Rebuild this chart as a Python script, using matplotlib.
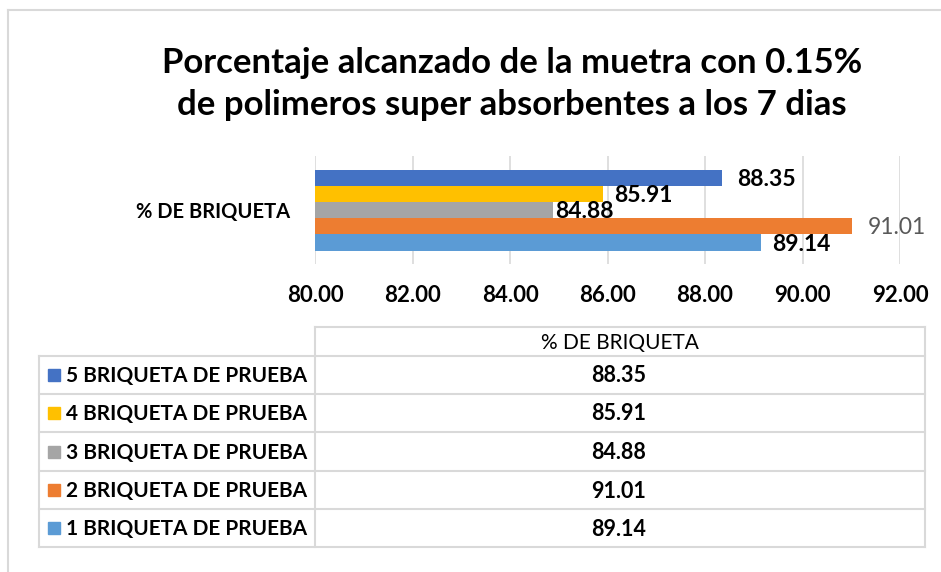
import matplotlib
matplotlib.use("Agg")
import matplotlib.pyplot as plt
from matplotlib.lines import Line2D
from matplotlib.patches import Rectangle

# ---- data ----
series_names = ["1 BRIQUETA DE PRUEBA", "2 BRIQUETA DE PRUEBA", "3 BRIQUETA DE PRUEBA",
                "4 BRIQUETA DE PRUEBA", "5 BRIQUETA DE PRUEBA"]
values = [89.14, 91.01, 84.88, 85.91, 88.35]
category = "% DE BRIQUETA"
xticks = [80, 82, 84, 86, 88, 90, 92]
title = "Porcentaje alcanzado de la muetra con 0.15%\nde polimeros super absorbentes a los 7 dias"

colors = ["#5B9BD5", "#ED7D31", "#A5A5A5", "#FFC000", "#4472C4"]
label_colors = ["#000000", "#595959", "#000000", "#000000", "#000000"]
label_weights = ["bold", "normal", "bold", "bold", "bold"]
label_dx = [12, 16, 2, 11, 15]  # px offsets from bar end

FONT = ["Lato", "DejaVu Sans"]
plt.rcParams["font.family"] = FONT

W, H = 941, 572
fig = plt.figure(figsize=(W / 100, H / 100), dpi=100)


def fx(x):
    return x / W


def fy(y):
    return 1 - y / H


# outer border
fig.add_artist(Line2D([fx(8), fx(8)], [fy(10), fy(H + 5)], color="#D9D9D9", lw=1.5))
fig.add_artist(Line2D([fx(8), fx(W + 5)], [fy(10), fy(10)], color="#D9D9D9", lw=1.5))

# title
fig.text(fx(512), fy(84), title, ha="center", va="center", fontsize=25,
         fontweight="bold", color="#000000", linespacing=1.36)

# bar axes
ax_l, ax_r, ax_t, ax_b = 315, 900, 156, 264
ax = fig.add_axes([fx(ax_l), fy(ax_b), (ax_r - ax_l) / W, (ax_b - ax_t) / H])
n = len(values)
h = 0.15
for i, (v, c) in enumerate(zip(values, colors)):
    y = -0.3 + i * h
    ax.barh(y, v - 80, left=80, height=h, color=c, zorder=3)
    ax.annotate(f"{v:.2f}", (v, y), xytext=(label_dx[i] * 0.72, -1.2), textcoords="offset points",
                ha="left", va="center", fontsize=16.5, fontweight=label_weights[i],
                color=label_colors[i], zorder=4)
ax.set_xlim(80, 92)
ax.set_ylim(-0.5, 0.5)
ax.set_xticks(xticks)
ax.set_xticklabels([f"{t:.2f}" for t in xticks], fontsize=16, fontweight="bold")
ax.set_yticks([0])
ax.set_yticklabels([category], fontsize=14.5, fontweight="bold")
ax.tick_params(axis="both", length=0)
ax.tick_params(axis="x", pad=15)
ax.tick_params(axis="y", pad=18)
ax.grid(axis="x", color="#D9D9D9", lw=1.2, zorder=0)
for s in ax.spines.values():
    s.set_visible(False)
ax.set_facecolor("none")

# data table
grid_c = "#D9D9D9"
tl, tm, tr = 39, 315, 925
row_y = [327, 356, 394, 432, 471, 509, 547]


def hline(x0, x1, y):
    fig.add_artist(Line2D([fx(x0), fx(x1)], [fy(y), fy(y)], color=grid_c, lw=1.5))


def vline(x, y0, y1):
    fig.add_artist(Line2D([fx(x), fx(x)], [fy(y0), fy(y1)], color=grid_c, lw=1.5))


hline(tm, tr, row_y[0])
for y in row_y[1:]:
    hline(tl, tr, y)
vline(tm, row_y[0], row_y[-1])
vline(tr, row_y[0], row_y[-1])
vline(tl, row_y[1], row_y[-1])

fig.text(fx((tm + tr) / 2), fy((row_y[0] + row_y[1]) / 2 + 1), category, ha="center", va="center",
         fontsize=15, color="#000000")

order = list(range(n))[::-1]
for r, i in enumerate(order):
    yc = (row_y[r + 1] + row_y[r + 2]) / 2
    fig.add_artist(Rectangle((fx(48), fy(yc + 6)), 12 / W, 12 / H, color=colors[i],
                             transform=fig.transFigure))
    fig.text(fx(66), fy(yc + 1), series_names[i], ha="left", va="center", fontsize=15,
             fontweight="bold", color="#000000")
    fig.text(fx(619), fy(yc + 1), f"{values[i]:.2f}", ha="center", va="center", fontsize=15.5,
             fontweight="bold", color="#000000")

fig.savefig("out.png", dpi=100, facecolor="white")
